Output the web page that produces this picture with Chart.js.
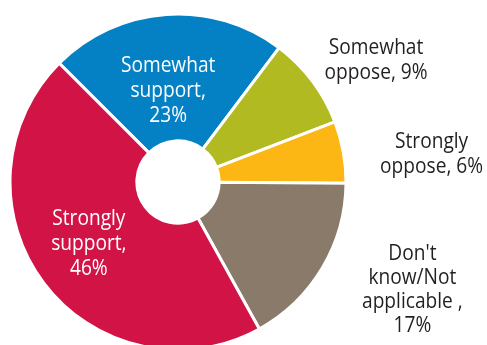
<!DOCTYPE html>
<html>
<head>
<meta charset="utf-8">
<script src="https://cdn.jsdelivr.net/npm/chart.js@4.4.1/dist/chart.umd.min.js"></script>
<style>
  html, body { margin: 0; padding: 0; background: #fff; overflow: hidden; }
</style>
</head>
<body>
<canvas id="opinionChart" width="487" height="345"></canvas>
<script>
const categories = ['Somewhat support', 'Somewhat oppose', 'Strongly oppose', "Don't know/Not applicable", 'Strongly support'];
const shares = [23, 9, 6, 17, 46];
const sliceColors = ['#0481c4', '#b1bb21', '#fcb715', '#8a7a69', '#d21346'];

// label text broken into lines, {v} is replaced by the slice value
const labelLines = [
    ['Somewhat', 'support,', '{v}%'],
    ['Somewhat', 'oppose, {v}%'],
    ['Strongly', 'oppose, {v}%'],
    ["Don't", 'know/Not', 'applicable ,', '{v}%'],
    ['Strongly', 'support,', '{v}%']
];

// where each label sits: distance as a share of the radius, angle nudge in degrees
const labelPlace = [
    { dist: 0.56, shift: -2, inside: true, lineHeight: 25 },
    { dist: 1.39, shift: 5, inside: false, lineHeight: 25 },
    { dist: 1.52, shift: 3.5, inside: false, lineHeight: 25 },
    { dist: 1.53, shift: -6.5, inside: false, lineHeight: 24 },
    { dist: 0.64, shift: 3, inside: true, lineHeight: 25 }
];

// the labels use a narrow humanist face, so squeeze Open Sans a little
const textSqueeze = 0.87;

const sliceLabels = {
    id: 'sliceLabels',
    afterDatasetsDraw(chart) {
        const ctx = chart.ctx;
        const arcs = chart.getDatasetMeta(0).data;
        ctx.save();
        ctx.font = '22px "Open Sans", sans-serif';
        ctx.textAlign = 'center';
        ctx.textBaseline = 'middle';
        arcs.forEach(function(arc, i) {
            const p = arc.getProps(['x', 'y', 'startAngle', 'endAngle', 'outerRadius'], true);
            const place = labelPlace[i];
            const mid = (p.startAngle + p.endAngle) / 2 + place.shift * Math.PI / 180;
            const cx = p.x + Math.cos(mid) * p.outerRadius * place.dist;
            const cy = p.y + Math.sin(mid) * p.outerRadius * place.dist + 2;
            const lines = labelLines[i].map(l => l.replace('{v}', shares[i]));
            const top = cy - (lines.length - 1) * place.lineHeight / 2;
            ctx.fillStyle = place.inside ? '#ffffff' : '#231f20';
            lines.forEach(function(line, k) {
                ctx.save();
                ctx.translate(cx, top + k * place.lineHeight);
                ctx.scale(textSqueeze, 1);
                ctx.fillText(line, 0, 0);
                ctx.restore();
            });
        });
        ctx.restore();
    }
};

new Chart(document.getElementById('opinionChart'), {
    type: 'doughnut',
    data: {
        labels: categories,
        datasets: [{
            data: shares,
            backgroundColor: sliceColors,
            borderColor: '#ffffff',
            borderWidth: 3,
            clip: false
        }]
    },
    options: {
        responsive: false,
        animation: false,
        rotation: -45,
        radius: 168,
        cutout: '24.5%',
        layout: {
            padding: { left: 10, right: 141, top: 19, bottom: 0 }
        },
        plugins: {
            legend: { display: false },
            tooltip: { enabled: false }
        }
    },
    plugins: [sliceLabels]
});
</script>
</body>
</html>
